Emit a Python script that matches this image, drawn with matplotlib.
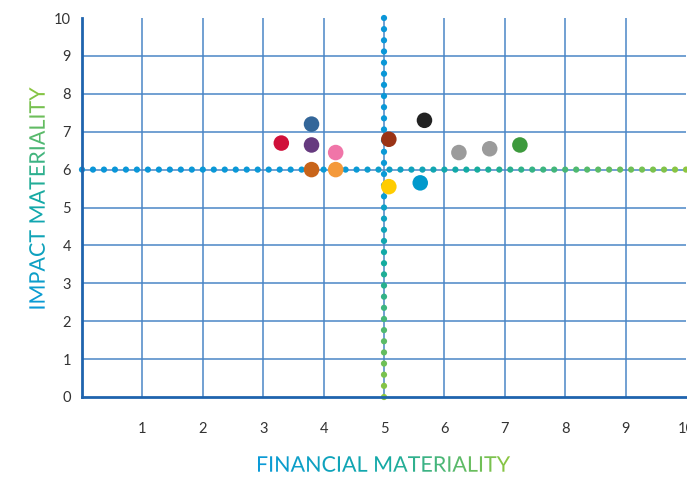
import numpy as np
import matplotlib
matplotlib.use("Agg")
import matplotlib.pyplot as plt
from matplotlib.colors import LinearSegmentedColormap
from matplotlib.textpath import TextPath
from matplotlib.font_manager import FontProperties
from matplotlib.patches import PathPatch
from matplotlib.transforms import Affine2D

# topics: financial materiality (x), impact materiality (y)
fin = [3.3, 3.8, 3.8, 4.2, 3.8, 4.2, 5.08, 5.67, 5.08, 5.6, 6.24, 6.75, 7.25]
imp = [6.7, 7.2, 6.65, 6.45, 6.0, 6.0, 6.8, 7.3, 5.55, 5.65, 6.45, 6.55, 6.65]
colors = ['#d0103a', '#336699', '#663a7f', '#f075a8', '#c8641a', '#f4993a',
          '#9a3316', '#222222', '#ffcc00', '#0099cc', '#9b9b9b', '#9b9b9b', '#3d9a3d']
x_ticks = list(range(1, 11))
y_ticks = list(range(0, 11))
threshold_x = 5
threshold_y = 6

W, H, DPI = 687, 480, 100
grad = LinearSegmentedColormap.from_list(
    'g', [(0, '#0a96d8'), (0.45, '#0a9ad6'), (0.65, '#14ac9e'), (1, '#8dc63f')])

fig = plt.figure(figsize=(W / DPI, H / DPI), dpi=DPI)
ax = fig.add_axes([82 / W, 1 - 397 / H, 604 / W, 379 / H])
ax.set_xlim(0, 10)
ax.set_ylim(0, 10)

for v in x_ticks[:-1]:
    ax.axvline(v, color='#4a86c6', lw=1.1, zorder=1)
for v in y_ticks[1:-1]:
    ax.axhline(v, color='#4a86c6', lw=1.1, zorder=1)

# gradient dotted threshold lines
hx = np.linspace(0, 10, 56)
ax.scatter(hx, np.full_like(hx, threshold_y), s=20, c=grad(hx / 10), lw=0, zorder=2, clip_on=False)
vy = np.linspace(10, 0, 35)
ax.scatter(np.full_like(vy, threshold_x), vy, s=20, c=grad((10 - vy) / 10), lw=0, zorder=2, clip_on=False)

ax.scatter(fin, imp, s=125, c=colors, lw=0, zorder=3, clip_on=False)

ax.set_xticks(x_ticks)
ax.set_yticks(y_ticks)
ax.tick_params(length=0, labelsize=10.5, labelcolor='#333333')
ax.tick_params(axis='x', pad=18)
ax.tick_params(axis='y', pad=8)
for lab in ax.get_xticklabels() + ax.get_yticklabels():
    lab.set_fontfamily('Lato')
for s in ['top', 'right']:
    ax.spines[s].set_visible(False)
for s in ['left', 'bottom']:
    ax.spines[s].set_color('#1f64ae')
    ax.spines[s].set_linewidth(2)
    ax.spines[s].set_zorder(4)

# overlay for gradient axis titles (pixel coordinates)
ov = fig.add_axes([0, 0, 1, 1])
ov.set_xlim(0, W)
ov.set_ylim(0, H)
ov.axis('off')
ov.patch.set_alpha(0)


def grad_text(s, cx, cy, size, rot):
    fp = FontProperties(family='Lato', size=size)
    tp = TextPath((0, 0), s, prop=fp)
    bb = tp.get_extents()
    tr = (Affine2D().translate(-bb.x0 - bb.width / 2, -bb.y0 - bb.height / 2)
          .scale(DPI / 72).rotate_deg(rot).translate(cx, cy))
    path = tr.transform_path(tp)
    pb = path.get_extents()
    g = np.linspace(0, 1, 256)
    if rot == 0:
        img = g[None, :]
    else:
        img = g[::-1][:, None]
    im = ov.imshow(img, cmap=LinearSegmentedColormap.from_list(
        't', ['#0a9ad8', '#14aaa6', '#8dc63f']),
        extent=[pb.x0, pb.x1, pb.y0, pb.y1], aspect='auto', zorder=5)
    patch = PathPatch(path, transform=ov.transData, fc='none', ec='none')
    ov.add_patch(patch)
    im.set_clip_path(patch)


grad_text('FINANCIAL MATERIALITY', 384, H - 464, 15.5, 0)
grad_text('IMPACT MATERIALITY', 37, H - 198, 15.5, 90)
ov.set_xlim(0, W)
ov.set_ylim(0, H)

fig.savefig('out.png', dpi=DPI)
